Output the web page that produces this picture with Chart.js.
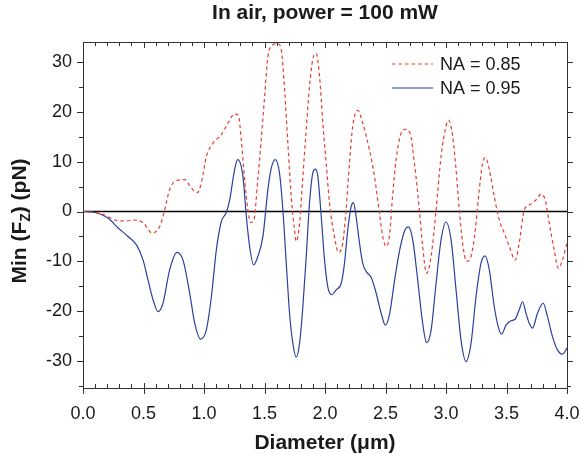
<!DOCTYPE html>
<html><head><meta charset="utf-8">
<script src="https://cdn.jsdelivr.net/npm/chart.js@4.4.0/dist/chart.umd.min.js"></script>
<style>html,body{margin:0;padding:0;background:#fff;}#wrap{width:580px;height:454px;position:relative}</style>
</head><body><div id="wrap"><canvas id="c" width="580" height="454"></canvas></div>
<script>
const titleText = 'In air, power = 100 mW';
const xTitle = 'Diameter (\u03bcm)';
const yTitleParts = ['Min (F', 'Z', ') (pN)'];
const seriesLabels = ['NA = 0.85', 'NA = 0.95'];
const xTickValues = [0, 0.5, 1, 1.5, 2, 2.5, 3, 3.5, 4];
const yTickValues = [-30, -20, -10, 0, 10, 20, 30];

const diam085 = [0, 0.10, 0.18, 0.26, 0.345, 0.43, 0.50, 0.57, 0.634, 0.675, 0.716, 0.758, 0.84, 0.896, 0.945, 0.978, 1.019, 1.074, 1.143, 1.198, 1.253, 1.286, 1.308, 1.336, 1.363, 1.385, 1.41, 1.445, 1.473, 1.501, 1.528, 1.556, 1.61, 1.638, 1.666, 1.693, 1.721, 1.748, 1.762, 1.79, 1.817, 1.845, 1.872, 1.899, 1.927, 1.955, 1.982, 2.01, 2.037, 2.078, 2.111, 2.147, 2.174, 2.202, 2.229, 2.271, 2.312, 2.367, 2.409, 2.45, 2.477, 2.505, 2.532, 2.56, 2.588, 2.629, 2.664, 2.703, 2.739, 2.78, 2.807, 2.84, 2.877, 2.918, 2.959, 3.0, 3.022, 3.055, 3.083, 3.11, 3.137, 3.17, 3.207, 3.242, 3.275, 3.302, 3.325, 3.358, 3.399, 3.44, 3.481, 3.523, 3.572, 3.605, 3.647, 3.688, 3.743, 3.785, 3.82, 3.853, 3.894, 3.929, 3.963, 4.0];
const force085 = [0, -0.2, -0.7, -1.7, -1.9, -1.7, -2.3, -4.3, -3.0, 0.3, 4.4, 6.0, 6.4, 4.7, 3.8, 5.7, 11.0, 13.7, 15.4, 17.7, 19.6, 19.1, 14.4, 6.4, 0.3, -2.2, -1.9, 6.4, 14.4, 23.1, 31.1, 33.1, 33.7, 32.5, 24.4, 13.7, 3.0, -3.7, -6.0, -2.3, 7.0, 16.4, 25.1, 30.5, 31.7, 27.1, 17.7, 9.7, 1.7, -5.0, -8.2, -6.3, 0.3, 9.7, 17.1, 20.3, 17.7, 12.4, 7.0, -0.3, -5.0, -7.0, -5.0, 3.5, 10.5, 15.7, 16.5, 15.7, 9.7, 0.3, -7.0, -12.4, -9.0, 0.3, 11.0, 17.1, 18.3, 15.1, 8.4, 0.3, -6.3, -10.0, -9.0, -3.7, 4.4, 9.7, 10.8, 8.4, 3.0, -1.7, -4.3, -7.0, -9.7, -6.3, 0.3, 1.3, 2.3, 3.5, 2.3, -2.3, -7.7, -11.4, -9.7, -6.3];

const diam095 = [0, 0.10, 0.207, 0.29, 0.372, 0.442, 0.496, 0.537, 0.579, 0.62, 0.661, 0.716, 0.777, 0.826, 0.882, 0.923, 0.972, 1.019, 1.061, 1.102, 1.143, 1.184, 1.212, 1.253, 1.278, 1.322, 1.35, 1.377, 1.41, 1.445, 1.487, 1.528, 1.556, 1.589, 1.624, 1.652, 1.68, 1.707, 1.734, 1.762, 1.79, 1.817, 1.845, 1.872, 1.899, 1.922, 1.941, 1.969, 1.996, 2.023, 2.056, 2.092, 2.134, 2.161, 2.188, 2.216, 2.235, 2.257, 2.285, 2.312, 2.34, 2.381, 2.423, 2.464, 2.499, 2.532, 2.574, 2.615, 2.656, 2.689, 2.725, 2.766, 2.807, 2.84, 2.877, 2.918, 2.959, 3.0, 3.042, 3.083, 3.124, 3.166, 3.207, 3.248, 3.289, 3.322, 3.358, 3.399, 3.435, 3.459, 3.496, 3.537, 3.572, 3.605, 3.633, 3.661, 3.688, 3.715, 3.756, 3.803, 3.839, 3.88, 3.922, 3.963, 4.0];
const force095 = [0, -0.2, -1.3, -3.3, -5.0, -6.7, -9.7, -13.7, -17.7, -20.1, -18.4, -11.7, -8.2, -9.7, -16.4, -22.4, -25.6, -23.8, -17.1, -7.7, -2.0, -0.2, 2.3, 8.4, 10.4, 7.0, -1.0, -7.0, -10.7, -9.0, -5.0, 4.4, 8.7, 10.4, 7.7, 0.3, -10.4, -20.4, -26.4, -29.2, -26.4, -19.1, -9.0, 1.7, 7.7, 8.5, 7.0, -1.0, -9.7, -15.1, -16.7, -15.7, -14.4, -10.4, -3.7, 1.0, 1.8, -1.0, -6.3, -10.4, -12.0, -13.2, -16.4, -20.4, -22.8, -20.8, -14.0, -8.0, -4.0, -3.1, -5.7, -13.7, -22.4, -26.3, -23.8, -14.4, -5.7, -2.1, -5.7, -15.7, -25.8, -30.1, -26.4, -17.1, -10.4, -8.9, -11.7, -19.1, -23.4, -24.6, -22.8, -21.9, -21.6, -19.7, -18.1, -20.4, -22.4, -23.4, -20.4, -18.4, -21.1, -25.1, -27.8, -28.6, -27.4];

const FONT = "'Liberation Sans', Arial, Helvetica, sans-serif";
const TXT = '#1a1a1a';
const RED = '#e53b30';
const BLUE = '#2b409c';
const AXIS = '#333';

const toPts = (xs, ys) => xs.map((x, i) => ({x: x, y: ys[i]}));

const frame = {
  id: 'frame',
  beforeDatasetsDraw(chart) {
    const {ctx, chartArea: a, scales} = chart;
    const y0 = scales.y.getPixelForValue(0);
    ctx.save();
    ctx.strokeStyle = '#000';
    ctx.lineWidth = 1.6;
    ctx.beginPath(); ctx.moveTo(a.left, y0); ctx.lineTo(a.right, y0); ctx.stroke();
    ctx.restore();
  },
  afterDraw(chart) {
    const {ctx, chartArea: a, scales} = chart;
    const xs = scales.x, ys = scales.y;
    ctx.save();
    ctx.strokeStyle = AXIS;
    ctx.lineWidth = 1;
    ctx.strokeRect(Math.round(a.left) + 0.5, Math.round(a.top) + 0.5, Math.round(a.right - a.left), Math.round(a.bottom - a.top));
    ctx.beginPath();
    for (let i = 0; i <= 40; i++) {
      const v = i / 10;
      const px = Math.round(xs.getPixelForValue(v)) + 0.5;
      const major = i % 5 === 0;
      ctx.moveTo(px, a.bottom - (major ? 5 : 4));
      ctx.lineTo(px, a.bottom + (major ? 6 : 0));
      ctx.moveTo(px, a.top);
      ctx.lineTo(px, a.top + (major ? 6 : 4));
    }
    for (let v = -35; v <= 30; v += 5) {
      const py = Math.round(ys.getPixelForValue(v)) + 0.5;
      const major = v % 10 === 0;
      const len = major ? 6 : 4;
      ctx.moveTo(a.left - len, py); ctx.lineTo(a.left, py);
      ctx.moveTo(a.right, py); ctx.lineTo(a.right + len, py);
    }
    ctx.stroke();

    ctx.fillStyle = TXT;
    ctx.font = 'bold 21px ' + FONT;
    ctx.textAlign = 'center';
    ctx.textBaseline = 'middle';
    ctx.fillText(titleText, (a.left + a.right) / 2, 13);
    ctx.fillText(xTitle, (a.left + a.right) / 2, 443);
    ctx.save();
    ctx.translate(20, (a.top + a.bottom) / 2 + 6);
    ctx.rotate(-Math.PI / 2);
    ctx.textAlign = 'left';
    ctx.textBaseline = 'middle';
    const fMain = 'bold 21px ' + FONT, fSub = 'bold 14px ' + FONT;
    ctx.font = fMain; const w1 = ctx.measureText(yTitleParts[0]).width;
    const w3 = ctx.measureText(yTitleParts[2]).width;
    ctx.font = fSub; const w2 = ctx.measureText(yTitleParts[1]).width;
    let sx = -(w1 + w2 + w3) / 2;
    ctx.font = fMain; ctx.fillText(yTitleParts[0], sx, 0); sx += w1;
    ctx.font = fSub; ctx.fillText(yTitleParts[1], sx, 6); sx += w2;
    ctx.font = fMain; ctx.fillText(yTitleParts[2], sx, 0);
    ctx.restore();

    ctx.font = '18px ' + FONT;
    ctx.textAlign = 'left';
    ctx.textBaseline = 'middle';
    chart.data.datasets.forEach((ds, i) => {
      const ly = 64 + i * 24;
      ctx.save();
      ctx.strokeStyle = ds.borderColor;
      ctx.lineWidth = ds.borderWidth;
      ctx.setLineDash(ds.borderDash || []);
      ctx.beginPath(); ctx.moveTo(392, ly); ctx.lineTo(433, ly); ctx.stroke();
      ctx.restore();
      ctx.fillStyle = TXT;
      ctx.fillText(ds.label, 440, ly + 1);
    });
    ctx.restore();
  }
};

new Chart(document.getElementById('c'), {
  type: 'line',
  data: {
    datasets: [
      {label: seriesLabels[0], data: toPts(diam085, force085), borderColor: RED, borderWidth: 1.2, borderDash: [3.5, 3], pointRadius: 0, fill: false, cubicInterpolationMode: 'monotone'},
      {label: seriesLabels[1], data: toPts(diam095, force095), borderColor: BLUE, borderWidth: 1.2, pointRadius: 0, fill: false, cubicInterpolationMode: 'monotone'}
    ]
  },
  options: {
    responsive: false,
    animation: false,
    devicePixelRatio: 1,
    layout: {padding: {top: 42, right: 13, left: 0, bottom: 0}},
    plugins: {legend: {display: false}, title: {display: false}, tooltip: {enabled: false}},
    scales: {
      x: {
        type: 'linear', min: 0, max: 4,
        afterBuildTicks: s => { s.ticks = xTickValues.map(v => ({value: v})); },
        afterFit: s => { s.height = 66; s.paddingLeft = 0; s.paddingRight = 0; },
        grid: {display: false, drawTicks: false},
        border: {display: false},
        ticks: {callback: v => Number(v).toFixed(1), font: {family: FONT, size: 18}, color: TXT, padding: 15, maxRotation: 0, autoSkip: false}
      },
      y: {
        type: 'linear', min: -35.4, max: 34,
        afterBuildTicks: s => { s.ticks = yTickValues.map(v => ({value: v})); },
        afterFit: s => { s.width = 83; s.paddingTop = 0; s.paddingBottom = 0; },
        grid: {display: false, drawTicks: false},
        border: {display: false},
        ticks: {callback: v => String(v), font: {family: FONT, size: 18}, color: TXT, padding: 11, autoSkip: false}
      }
    }
  },
  plugins: [frame]
});
</script>
</body></html>
